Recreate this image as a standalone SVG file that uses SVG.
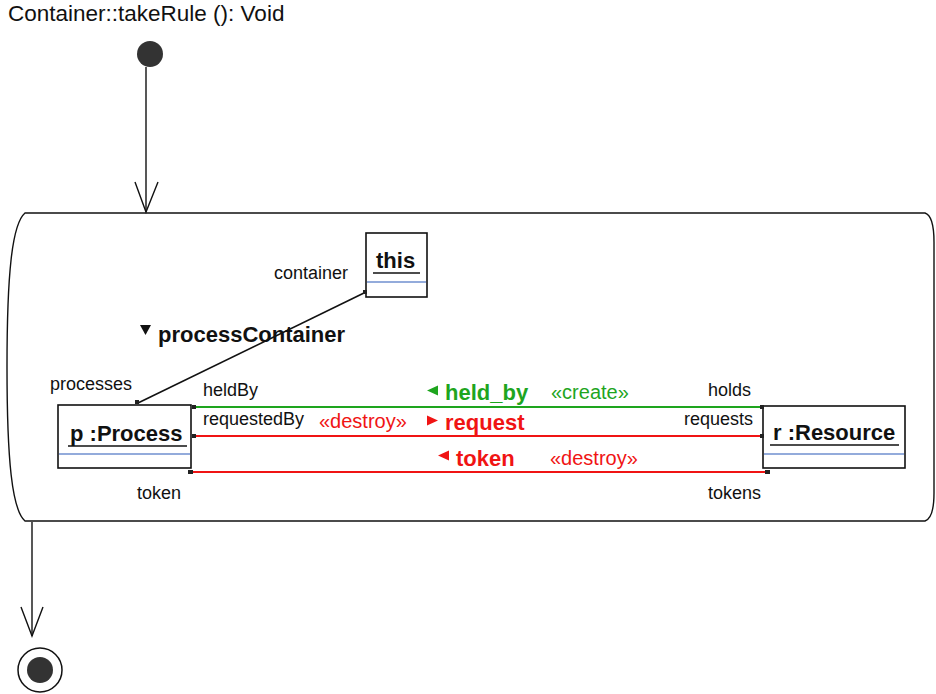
<svg xmlns="http://www.w3.org/2000/svg" width="936" height="694" viewBox="0 0 936 694">
  <style>
    text { font-family: "Liberation Sans", Arial, sans-serif; }
    .title { font-size: 22.5px; fill: #111; }
    .role { font-size: 18px; fill: #111; }
    .obj { font-size: 22px; font-weight: bold; fill: #111; }
    .box { fill: #fff; stroke: #111; stroke-width: 1.6; }
    .sep { stroke: #6f8fcf; stroke-width: 1.5; }
    .ul { stroke: #111; stroke-width: 1.6; }
    .flow { fill: none; stroke: #111; stroke-width: 1.4; }
    .create { stroke: #1ea51e; stroke-width: 1.8; fill: none; }
    .destroy { stroke: #f01414; stroke-width: 1.8; fill: none; }
    .link { stroke: #111; stroke-width: 1.6; fill: none; }
    .end { fill: #222; }
    .lbl-create { font-size: 22px; font-weight: bold; fill: #1ea51e; }
    .st-create { font-size: 20px; fill: #1ea51e; }
    .lbl-destroy { font-size: 22px; font-weight: bold; fill: #f01414; }
    .st-destroy { font-size: 20px; fill: #f01414; }
    .assoc { font-size: 22px; font-weight: bold; fill: #111; }
  </style>

  <text class="title" x="8" y="21">Container::takeRule (): Void</text>

  <!-- initial node -->
  <g id="start">
    <circle cx="150" cy="54" r="13" fill="#333"/>
  </g>

  <!-- story activity -->
  <g id="activity">
    <path class="flow" d="M25,213 H925 C931,215 934,225 934,242 V493 C934,509 931,519 925,521 H25 C12,510 7,460 7,367 C7,274 12,224 25,213 Z" fill="#fff"/>
  </g>

  <!-- final node -->
  <g id="final">
    <circle cx="40" cy="670" r="22" fill="#fff" stroke="#111" stroke-width="1.5"/>
    <circle cx="40" cy="670" r="13" fill="#333"/>
  </g>

  <!-- control flow -->
  <g id="flows">
    <line class="flow" x1="146" y1="67" x2="146" y2="212"/>
    <polyline class="flow" points="135,182 146,212 158,182"/>
    <line class="flow" x1="32" y1="522" x2="32" y2="636"/>
    <polyline class="flow" points="21,607 32,636 43,607"/>
  </g>

  <!-- objects -->
  <g id="this">
    <rect class="box" x="366" y="233" width="61" height="64"/>
    <line class="sep" x1="367" y1="282" x2="426" y2="282"/>
    <text class="obj" x="376" y="268">this</text>
    <line class="ul" x1="373" y1="273" x2="420" y2="273"/>
  </g>

  <g id="process">
    <rect class="box" x="58" y="405" width="133" height="63"/>
    <line class="sep" x1="59" y1="454" x2="190" y2="454"/>
    <text class="obj" x="70" y="441">p :Process</text>
    <line class="ul" x1="68" y1="446" x2="187" y2="446"/>
  </g>

  <g id="resource">
    <rect class="box" x="763" y="406" width="142" height="62"/>
    <line class="sep" x1="764" y1="454" x2="904" y2="454"/>
    <text class="obj" x="773" y="440">r :Resource</text>
    <line class="ul" x1="770" y1="445" x2="899" y2="445"/>
  </g>

  <!-- links -->
  <g id="links">
    <!-- processContainer -->
    <line class="link" x1="138" y1="403" x2="366" y2="292"/>
    <rect class="end" x="135" y="400" width="4" height="4"/>
    <rect class="end" x="363" y="290" width="4" height="4"/>
    <text class="role" x="274" y="279">container</text>
    <text class="role" x="50" y="390">processes</text>
    <polygon points="140,325 151,325 145.5,335" fill="#111"/>
    <text class="assoc" x="158" y="342">processContainer</text>

    <!-- held_by -->
    <line class="create" x1="192" y1="407" x2="763" y2="407"/>
    <rect class="end" x="192" y="405" width="4" height="4"/>
    <rect class="end" x="760" y="405" width="4" height="4"/>
    <polygon points="427,390.5 438,385.5 438,395.5" fill="#1ea51e"/>
    <text class="lbl-create" x="445" y="400">held_by</text>
    <text class="st-create" x="551" y="399">«create»</text>
    <text class="role" x="203" y="396">heldBy</text>
    <text class="role" x="751" y="396" text-anchor="end">holds</text>

    <!-- request -->
    <line class="destroy" x1="192" y1="436" x2="763" y2="436"/>
    <rect class="end" x="192" y="434" width="4" height="4"/>
    <rect class="end" x="760" y="434" width="4" height="4"/>
    <polygon points="427,415.5 438,420.5 427,425.5" fill="#f01414"/>
    <text class="lbl-destroy" x="445" y="430">request</text>
    <text class="st-destroy" x="319" y="428">«destroy»</text>
    <text class="role" x="203" y="425">requestedBy</text>
    <text class="role" x="753" y="425" text-anchor="end">requests</text>

    <!-- token -->
    <line class="destroy" x1="188" y1="472" x2="769" y2="472"/>
    <rect class="end" x="188" y="470" width="5" height="4"/>
    <rect class="end" x="765" y="470" width="5" height="4"/>
    <polygon points="438,455.5 449,450.5 449,460.5" fill="#f01414"/>
    <text class="lbl-destroy" x="456" y="466">token</text>
    <text class="st-destroy" x="550" y="465">«destroy»</text>
    <text class="role" x="137" y="499">token</text>
    <text class="role" x="761" y="499" text-anchor="end">tokens</text>
  </g>
</svg>
